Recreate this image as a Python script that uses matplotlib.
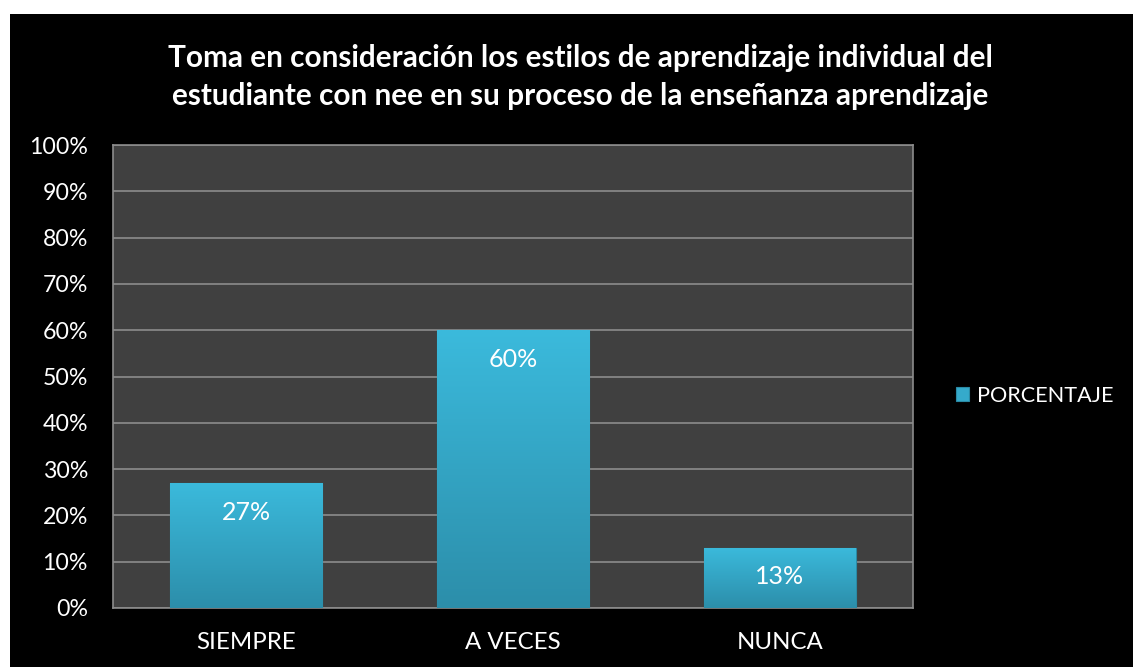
import matplotlib
matplotlib.use("Agg")
import matplotlib.pyplot as plt
import numpy as np
from matplotlib.patches import Rectangle
from matplotlib.colors import LinearSegmentedColormap

categories = ["SIEMPRE", "A VECES", "NUNCA"]
values = [27, 60, 13]
labels = ["27%", "60%", "13%"]
series_name = "PORCENTAJE"
yticks = [0, 10, 20, 30, 40, 50, 60, 70, 80, 90, 100]
title = ("Toma en consideración los estilos de aprendizaje individual del\n"
         "estudiante con nee en su proceso de la enseñanza aprendizaje")

FONT = "Lato"
W, H = 1133, 667
fig = plt.figure(figsize=(W / 100, H / 100), dpi=100)
fig.patch.set_facecolor("white")
# black chart area (white strip top & left)
fig.add_artist(Rectangle((10 / W, 0), 1 - 10 / W, 1 - 14 / H, transform=fig.transFigure,
                         facecolor="black", edgecolor="none", zorder=0))

left, right, top, bottom = 113, 913, 145, 608
ax = fig.add_axes([left / W, 1 - bottom / H, (right - left) / W, (bottom - top) / H])
ax.set_facecolor("#404040")
ax.set_xlim(-0.5, 2.5)
ax.set_ylim(0, 100)
x = np.arange(len(categories))
bw = 0.57
bars = ax.bar(x, values, width=bw, color="#35aacb", edgecolor="#2a8aa5", linewidth=0.8, zorder=3)

cmap = LinearSegmentedColormap.from_list("g", ["#2c8eaa", "#3bbadc"])
grad = np.linspace(0, 1, 256).reshape(-1, 1)
for b in bars:
    x0, y0 = b.get_x(), b.get_y()
    w, h = b.get_width(), b.get_height()
    im = ax.imshow(grad, cmap=cmap, origin="lower", aspect="auto",
                   extent=[x0, x0 + w, y0, y0 + h], zorder=3.5)
    im.set_clip_path(b)

for xi, v, lab in zip(x, values, labels):
    ax.annotate(lab, (xi, v), xytext=(0, -21), textcoords="offset points",
                ha="center", va="center", color="white", fontsize=18, family=FONT, zorder=5)

ax.set_yticks(yticks)
ax.set_yticklabels([f"{t}%" for t in yticks])
ax.set_xticks(x)
ax.set_xticklabels(categories)
ax.grid(axis="y", color="#8c8c8c", linewidth=1.2, zorder=1)
ax.set_axisbelow(True)
for s in ax.spines.values():
    s.set_color("#8c8c8c")
    s.set_linewidth(1.2)
ax.tick_params(axis="both", length=0, colors="white")
ax.tick_params(axis="y", pad=18, labelsize=16.7)
ax.tick_params(axis="x", pad=17, labelsize=17.3)
for t in ax.get_xticklabels() + ax.get_yticklabels():
    t.set_family(FONT)
    t.set_color("white")

fig.text(580 / W, 1 - 77 / H, title, ha="center", va="center", color="white",
         fontsize=21.4, fontweight="bold", family=FONT, linespacing=1.42)

leg = ax.legend([bars[0]], [series_name], loc="center left", bbox_to_anchor=(956 / W, 1 - 396 / H),
                bbox_transform=fig.transFigure, frameon=False, handlelength=0.6, handleheight=0.6,
                handletextpad=0.35, borderpad=0, borderaxespad=0,
                prop={"family": FONT, "size": 15.6})
for t in leg.get_texts():
    t.set_color("white")

fig.savefig("out.png", dpi=100, facecolor=fig.get_facecolor())
